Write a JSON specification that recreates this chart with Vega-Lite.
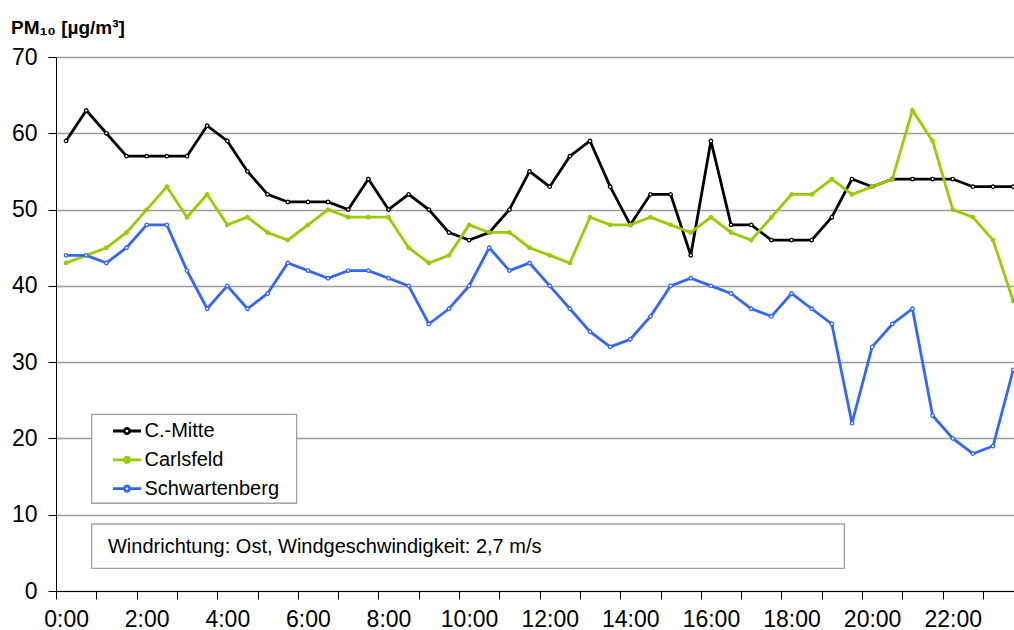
{
"$schema": "https://vega.github.io/schema/vega-lite/v6.json",
"width": 958, "height": 534,
"autosize": {"type": "none"},
"padding": {"left": 56, "top": 57, "right": 0, "bottom": 39},
"background": "white",
"config": {
 "view": {"stroke": null},
 "font": "Liberation Sans",
 "axis": {"labelOverlap": false, "labelFlush": false, "labelBound": false, "title": null,
  "domainColor": "black", "domainWidth": 1, "tickColor": "black", "tickWidth": 1, "tickSize": 8,
  "labelFont": "Liberation Sans", "labelFontSize": 23, "labelColor": "black"},
 "axisX": {"grid": false, "labelPadding": 9},
 "axisY": {"grid": true, "gridColor": "#9c9c9c", "gridWidth": 1.3, "labelPadding": 11}
},
"title": {"text": "PM₁₀ [µg/m³]", "anchor": "start", "frame": "group", "font": "Liberation Sans", "fontSize": 19, "fontWeight": "bold", "color": "black", "dx": -45, "dy": 7, "baseline": "alphabetic", "offset": 0},
"datasets": {
"pm": [
{"t":0,"s":"C.-Mitte","v":59},{"t":0.5,"s":"C.-Mitte","v":63},{"t":1,"s":"C.-Mitte","v":60},{"t":1.5,"s":"C.-Mitte","v":57},{"t":2,"s":"C.-Mitte","v":57},{"t":2.5,"s":"C.-Mitte","v":57},{"t":3,"s":"C.-Mitte","v":57},{"t":3.5,"s":"C.-Mitte","v":61},{"t":4,"s":"C.-Mitte","v":59},{"t":4.5,"s":"C.-Mitte","v":55},{"t":5,"s":"C.-Mitte","v":52},{"t":5.5,"s":"C.-Mitte","v":51},{"t":6,"s":"C.-Mitte","v":51},{"t":6.5,"s":"C.-Mitte","v":51},{"t":7,"s":"C.-Mitte","v":50},{"t":7.5,"s":"C.-Mitte","v":54},
{"t":8,"s":"C.-Mitte","v":50},{"t":8.5,"s":"C.-Mitte","v":52},{"t":9,"s":"C.-Mitte","v":50},{"t":9.5,"s":"C.-Mitte","v":47},{"t":10,"s":"C.-Mitte","v":46},{"t":10.5,"s":"C.-Mitte","v":47},{"t":11,"s":"C.-Mitte","v":50},{"t":11.5,"s":"C.-Mitte","v":55},{"t":12,"s":"C.-Mitte","v":53},{"t":12.5,"s":"C.-Mitte","v":57},{"t":13,"s":"C.-Mitte","v":59},{"t":13.5,"s":"C.-Mitte","v":53},{"t":14,"s":"C.-Mitte","v":48},{"t":14.5,"s":"C.-Mitte","v":52},{"t":15,"s":"C.-Mitte","v":52},{"t":15.5,"s":"C.-Mitte","v":44},
{"t":16,"s":"C.-Mitte","v":59},{"t":16.5,"s":"C.-Mitte","v":48},{"t":17,"s":"C.-Mitte","v":48},{"t":17.5,"s":"C.-Mitte","v":46},{"t":18,"s":"C.-Mitte","v":46},{"t":18.5,"s":"C.-Mitte","v":46},{"t":19,"s":"C.-Mitte","v":49},{"t":19.5,"s":"C.-Mitte","v":54},{"t":20,"s":"C.-Mitte","v":53},{"t":20.5,"s":"C.-Mitte","v":54},{"t":21,"s":"C.-Mitte","v":54},{"t":21.5,"s":"C.-Mitte","v":54},{"t":22,"s":"C.-Mitte","v":54},{"t":22.5,"s":"C.-Mitte","v":53},{"t":23,"s":"C.-Mitte","v":53},{"t":23.5,"s":"C.-Mitte","v":53},
{"t":0,"s":"Carlsfeld","v":43},{"t":0.5,"s":"Carlsfeld","v":44},{"t":1,"s":"Carlsfeld","v":45},{"t":1.5,"s":"Carlsfeld","v":47},{"t":2,"s":"Carlsfeld","v":50},{"t":2.5,"s":"Carlsfeld","v":53},{"t":3,"s":"Carlsfeld","v":49},{"t":3.5,"s":"Carlsfeld","v":52},{"t":4,"s":"Carlsfeld","v":48},{"t":4.5,"s":"Carlsfeld","v":49},{"t":5,"s":"Carlsfeld","v":47},{"t":5.5,"s":"Carlsfeld","v":46},{"t":6,"s":"Carlsfeld","v":48},{"t":6.5,"s":"Carlsfeld","v":50},{"t":7,"s":"Carlsfeld","v":49},{"t":7.5,"s":"Carlsfeld","v":49},
{"t":8,"s":"Carlsfeld","v":49},{"t":8.5,"s":"Carlsfeld","v":45},{"t":9,"s":"Carlsfeld","v":43},{"t":9.5,"s":"Carlsfeld","v":44},{"t":10,"s":"Carlsfeld","v":48},{"t":10.5,"s":"Carlsfeld","v":47},{"t":11,"s":"Carlsfeld","v":47},{"t":11.5,"s":"Carlsfeld","v":45},{"t":12,"s":"Carlsfeld","v":44},{"t":12.5,"s":"Carlsfeld","v":43},{"t":13,"s":"Carlsfeld","v":49},{"t":13.5,"s":"Carlsfeld","v":48},{"t":14,"s":"Carlsfeld","v":48},{"t":14.5,"s":"Carlsfeld","v":49},{"t":15,"s":"Carlsfeld","v":48},{"t":15.5,"s":"Carlsfeld","v":47},
{"t":16,"s":"Carlsfeld","v":49},{"t":16.5,"s":"Carlsfeld","v":47},{"t":17,"s":"Carlsfeld","v":46},{"t":17.5,"s":"Carlsfeld","v":49},{"t":18,"s":"Carlsfeld","v":52},{"t":18.5,"s":"Carlsfeld","v":52},{"t":19,"s":"Carlsfeld","v":54},{"t":19.5,"s":"Carlsfeld","v":52},{"t":20,"s":"Carlsfeld","v":53},{"t":20.5,"s":"Carlsfeld","v":54},{"t":21,"s":"Carlsfeld","v":63},{"t":21.5,"s":"Carlsfeld","v":59},{"t":22,"s":"Carlsfeld","v":50},{"t":22.5,"s":"Carlsfeld","v":49},{"t":23,"s":"Carlsfeld","v":46},{"t":23.5,"s":"Carlsfeld","v":38},
{"t":0,"s":"Schwartenberg","v":44},{"t":0.5,"s":"Schwartenberg","v":44},{"t":1,"s":"Schwartenberg","v":43},{"t":1.5,"s":"Schwartenberg","v":45},{"t":2,"s":"Schwartenberg","v":48},{"t":2.5,"s":"Schwartenberg","v":48},{"t":3,"s":"Schwartenberg","v":42},{"t":3.5,"s":"Schwartenberg","v":37},{"t":4,"s":"Schwartenberg","v":40},{"t":4.5,"s":"Schwartenberg","v":37},{"t":5,"s":"Schwartenberg","v":39},{"t":5.5,"s":"Schwartenberg","v":43},{"t":6,"s":"Schwartenberg","v":42},{"t":6.5,"s":"Schwartenberg","v":41},{"t":7,"s":"Schwartenberg","v":42},{"t":7.5,"s":"Schwartenberg","v":42},
{"t":8,"s":"Schwartenberg","v":41},{"t":8.5,"s":"Schwartenberg","v":40},{"t":9,"s":"Schwartenberg","v":35},{"t":9.5,"s":"Schwartenberg","v":37},{"t":10,"s":"Schwartenberg","v":40},{"t":10.5,"s":"Schwartenberg","v":45},{"t":11,"s":"Schwartenberg","v":42},{"t":11.5,"s":"Schwartenberg","v":43},{"t":12,"s":"Schwartenberg","v":40},{"t":12.5,"s":"Schwartenberg","v":37},{"t":13,"s":"Schwartenberg","v":34},{"t":13.5,"s":"Schwartenberg","v":32},{"t":14,"s":"Schwartenberg","v":33},{"t":14.5,"s":"Schwartenberg","v":36},{"t":15,"s":"Schwartenberg","v":40},{"t":15.5,"s":"Schwartenberg","v":41},
{"t":16,"s":"Schwartenberg","v":40},{"t":16.5,"s":"Schwartenberg","v":39},{"t":17,"s":"Schwartenberg","v":37},{"t":17.5,"s":"Schwartenberg","v":36},{"t":18,"s":"Schwartenberg","v":39},{"t":18.5,"s":"Schwartenberg","v":37},{"t":19,"s":"Schwartenberg","v":35},{"t":19.5,"s":"Schwartenberg","v":22},{"t":20,"s":"Schwartenberg","v":32},{"t":20.5,"s":"Schwartenberg","v":35},{"t":21,"s":"Schwartenberg","v":37},{"t":21.5,"s":"Schwartenberg","v":23},{"t":22,"s":"Schwartenberg","v":20},{"t":22.5,"s":"Schwartenberg","v":18},{"t":23,"s":"Schwartenberg","v":19},{"t":23.5,"s":"Schwartenberg","v":29}
],
"box": [{"k": "legend"}],
"note": [{"text": "Windrichtung: Ost, Windgeschwindigkeit: 2,7 m/s"}]
},
"layer": [
{
"data": {"name": "box"},
"mark": {"type": "rect", "fill": "white", "stroke": "#a0a0a0", "strokeWidth": 1.3},
"encoding": {
"x": {"datum": 0.636, "type": "quantitative", "title": null, "scale": {"domain": [-0.25, 23.52], "nice": false, "zero": false},
 "axis": {"values": [-0.25,0,0.75,1.75,2,2.75,3.75,4,4.75,5.75,6,6.75,7.75,8,8.75,9.75,10,10.75,11.75,12,12.75,13.75,14,14.75,15.75,16,16.75,17.75,18,18.75,19.75,20,20.75,21.75,22,22.75],
  "labelExpr": "datum.value % 2 === 0 ? datum.value + ':00' : ''",
  "tickOpacity": {"condition": {"test": "datum.value % 1 === 0", "value": 0}, "value": 1},
  "labelOverlap": false}},
"x2": {"datum": 5.72},
"y": {"datum": 23.16, "type": "quantitative", "title": null, "scale": {"domain": [0, 70], "nice": false},
 "axis": {"values": [0,10,20,30,40,50,60,70], "labelOverlap": false}},
"y2": {"datum": 11.5}
}
},
{
"data": {"name": "note"},
"mark": {"type": "rect", "fill": "white", "stroke": "#a0a0a0", "strokeWidth": 1.3},
"encoding": {
"x": {"datum": 0.636, "type": "quantitative", "title": null, "scale": {"domain": [-0.25, 23.52], "nice": false, "zero": false},
 "axis": {"values": [-0.25,0,0.75,1.75,2,2.75,3.75,4,4.75,5.75,6,6.75,7.75,8,8.75,9.75,10,10.75,11.75,12,12.75,13.75,14,14.75,15.75,16,16.75,17.75,18,18.75,19.75,20,20.75,21.75,22,22.75],
  "labelExpr": "datum.value % 2 === 0 ? datum.value + ':00' : ''",
  "tickOpacity": {"condition": {"test": "datum.value % 1 === 0", "value": 0}, "value": 1},
  "labelOverlap": false}},
"x2": {"datum": 19.31},
"y": {"datum": 8.78, "type": "quantitative", "title": null, "scale": {"domain": [0, 70], "nice": false},
 "axis": {"values": [0,10,20,30,40,50,60,70], "labelOverlap": false}},
"y2": {"datum": 2.97}
}
},
{
"data": {"name": "note"},
"mark": {"type": "text", "align": "left", "baseline": "alphabetic", "font": "Liberation Sans", "fontSize": 20, "color": "black"},
"encoding": {
"x": {"datum": 1.04, "type": "quantitative", "title": null, "scale": {"domain": [-0.25, 23.52], "nice": false, "zero": false},
 "axis": {"values": [-0.25,0,0.75,1.75,2,2.75,3.75,4,4.75,5.75,6,6.75,7.75,8,8.75,9.75,10,10.75,11.75,12,12.75,13.75,14,14.75,15.75,16,16.75,17.75,18,18.75,19.75,20,20.75,21.75,22,22.75],
  "labelExpr": "datum.value % 2 === 0 ? datum.value + ':00' : ''",
  "tickOpacity": {"condition": {"test": "datum.value % 1 === 0", "value": 0}, "value": 1},
  "labelOverlap": false}},
"y": {"datum": 4.94, "type": "quantitative", "title": null, "scale": {"domain": [0, 70], "nice": false},
 "axis": {"values": [0,10,20,30,40,50,60,70], "labelOverlap": false}},
"text": {"field": "text"}
}
},
{
"data": {"name": "pm"},
"encoding": {
"x": {"field": "t", "type": "quantitative", "title": null,
 "scale": {"domain": [-0.25, 23.52], "nice": false, "zero": false},
 "axis": {"values": [-0.25,0,0.75,1.75,2,2.75,3.75,4,4.75,5.75,6,6.75,7.75,8,8.75,9.75,10,10.75,11.75,12,12.75,13.75,14,14.75,15.75,16,16.75,17.75,18,18.75,19.75,20,20.75,21.75,22,22.75],
  "labelExpr": "datum.value % 2 === 0 ? datum.value + ':00' : ''",
  "tickOpacity": {"condition": {"test": "datum.value % 1 === 0", "value": 0}, "value": 1},
  "labelOverlap": false}},
"y": {"field": "v", "type": "quantitative", "title": null,
 "scale": {"domain": [0, 70], "nice": false},
 "axis": {"values": [0,10,20,30,40,50,60,70], "labelOverlap": false}},
"stroke": {"field": "s", "type": "nominal",
 "scale": {"domain": ["C.-Mitte", "Carlsfeld", "Schwartenberg"], "range": ["#000000", "#99cc00", "#3366ff"]},
 "legend": {"orient": "none", "legendX": 55.5, "legendY": 358.5, "title": null, "padding": 0,
  "symbolType": "M-1,0H-0.19M0.19,0H1M0.19,0A0.19,0.19 0 1,1 -0.19,0A0.19,0.19 0 1,1 0.19,0Z",
  "symbolSize": 784, "symbolStrokeWidth": 2.8, "symbolFillColor": "white", "symbolOffset": 0,
  "labelFont": "Liberation Sans", "labelFontSize": 20, "labelColor": "black", "labelOffset": 2, "rowPadding": 2.8,
  "encode": {"symbols": {"update": {"fill": {"signal": "datum.value === 'Carlsfeld' ? '#99cc00' : 'white'"}}}}}}
},
"layer": [
{"mark": {"type": "line", "strokeWidth": 2.8}},
{"mark": {"type": "point", "shape": "circle", "filled": true, "size": 12, "strokeWidth": 1.3, "opacity": 1},
 "encoding": {"fill": {"field": "s", "type": "nominal", "scale": {"domain": ["C.-Mitte", "Carlsfeld", "Schwartenberg"], "range": ["white", "#99cc00", "white"]}, "legend": null}}}
]
}
]
}
